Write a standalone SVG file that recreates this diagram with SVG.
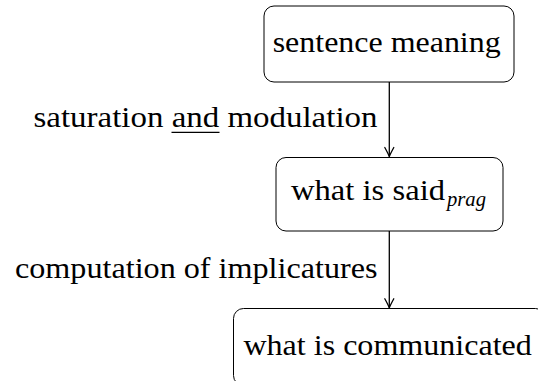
<svg xmlns="http://www.w3.org/2000/svg" width="538" height="381" viewBox="0 0 538 381">
<defs>
<style>
.box{fill:#fff;stroke:#000;stroke-width:1}
.t{font-family:'Liberation Serif','Times New Roman',serif;font-size:30px;fill:#000}
.sub{font-family:'Liberation Serif','Times New Roman',serif;font-size:21px;font-style:italic;fill:#000}
.edge{stroke:#000;stroke-width:1.3;fill:none}
.head{stroke:#000;stroke-width:1.3;fill:none;stroke-linecap:round;stroke-linejoin:round}
.ul{stroke:#000;stroke-width:1.2}
</style>
<marker id="arr" markerUnits="userSpaceOnUse" markerWidth="14" markerHeight="14" viewBox="-12 -7 14 14" refX="0" refY="0" orient="auto">
<path class="head" d="M-9,-4.5 Q-3,-1.2 0,0 Q-3,1.2 -9,4.5"/>
</marker>
</defs>
<rect width="538" height="381" fill="#fff"/>
<g id="connectors">
<line class="edge" x1="389.3" y1="82" x2="389.3" y2="156.5" marker-end="url(#arr)"/>
<line class="edge" x1="389.3" y1="231" x2="389.3" y2="307.8" marker-end="url(#arr)"/>
<text class="t" x="33.5" y="126.7" textLength="344" lengthAdjust="spacingAndGlyphs">saturation and modulation</text>
<line class="ul" x1="171.5" y1="132.3" x2="219.5" y2="132.3"/>
<text class="t" x="15" y="278.3" textLength="362.5" lengthAdjust="spacingAndGlyphs">computation of implicatures</text>
</g>
<g id="sentence-meaning">
<rect class="box" x="264" y="6" width="250" height="76" rx="10"/>
<text class="t" x="272.7" y="51.7" textLength="228" lengthAdjust="spacingAndGlyphs">sentence meaning</text>
</g>
<g id="what-is-said">
<rect class="box" x="276" y="157.5" width="227" height="73.5" rx="10"/>
<text class="t" x="291" y="200" textLength="154" lengthAdjust="spacingAndGlyphs">what is said</text>
<text class="sub" x="447" y="206" textLength="39" lengthAdjust="spacingAndGlyphs">prag</text>
</g>
<g id="what-is-communicated">
<rect class="box" x="233.5" y="308.5" width="312" height="77" rx="10"/>
<text class="t" x="243.4" y="355.3" textLength="288.5" lengthAdjust="spacingAndGlyphs">what is communicated</text>
</g>
</svg>
